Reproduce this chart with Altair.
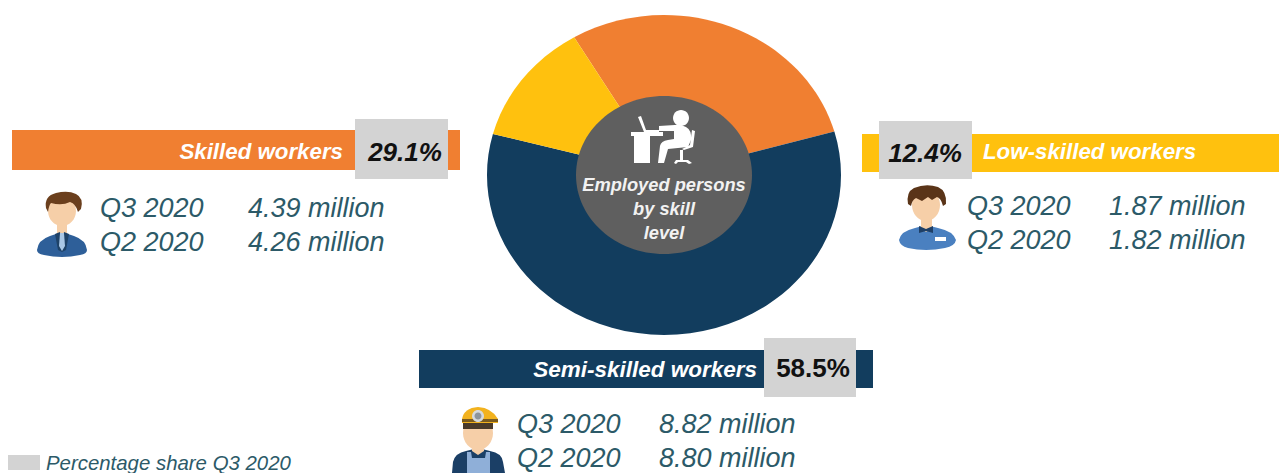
import math, re
import altair as alt
import pandas as pd

# ---- values ----
groups = ["Skilled workers", "Low-skilled workers", "Semi-skilled workers"]
shares = [29.1, 12.4, 58.5]
q3_values = [4.39, 1.87, 8.82]
q2_values = [4.26, 1.82, 8.80]
quarter_labels = ["Q3 2020", "Q2 2020"]
slice_colors = ["#F07F31", "#FFC10E", "#123D5E"]
center_lines = ["Employed persons", "by skill", "level"]
legend_label = "Percentage share Q3 2020"

FONT = "Liberation Sans"
TEAL = "#2C5A68"
GRAY = "#D3D3D3"
W, H = 1271, 465


def ix(v):
    return v - 8


def layer_rect(x0, x1, y0, y1, color):
    return alt.Chart().mark_rect(color=color).encode(
        x=alt.value(ix(x0)), x2=alt.value(ix(x1)), y=alt.value(ix(y0)), y2=alt.value(ix(y1))
    )


def txt(s, x, y, size, color, align="left", weight="normal", style="italic"):
    return alt.Chart().mark_text(
        text=s, font=FONT, fontSize=size, color=color, align=align, baseline="middle",
        fontWeight=weight, fontStyle=style,
    ).encode(x=alt.value(ix(x)), y=alt.value(ix(y) + 1))


def ell(cx, cy, rx, ry):
    k = 0.5523
    return (
        f"M {cx-rx} {cy} C {cx-rx} {cy-k*ry} {cx-k*rx} {cy-ry} {cx} {cy-ry} "
        f"C {cx+k*rx} {cy-ry} {cx+rx} {cy-k*ry} {cx+rx} {cy} "
        f"C {cx+rx} {cy+k*ry} {cx+k*rx} {cy+ry} {cx} {cy+ry} "
        f"C {cx-k*rx} {cy+ry} {cx-rx} {cy+k*ry} {cx-rx} {cy} Z"
    )


def unit_path(path, cx, cy, r):
    """Rewrite a path given in page pixels to the unit box a custom symbol uses."""
    count = [0]

    def sub(m):
        v = float(m.group(0))
        i = count[0]
        count[0] += 1
        return f"{(v - (cx if i % 2 == 0 else cy)) / r:.4f}"

    out = []
    for tok in re.split(r"([MLQCZ])", path):
        if tok in ("M", "L", "Q", "C", "Z"):
            out.append(tok)
        elif tok.strip():
            out.append(re.sub(r"-?\d+(\.\d+)?", sub, tok))
    return " ".join(out)


def icon(pieces, cx, cy, r=45):
    layers = []
    for path, color in pieces:
        layers.append(
            alt.Chart().mark_point(
                shape=unit_path(path, cx, cy, r), filled=True, color=color, opacity=1,
                strokeWidth=0, size=(2 * r) ** 2,
            ).encode(x=alt.value(ix(cx)), y=alt.value(ix(cy)))
        )
    return layers


# ---- pie (its circle is drawn slightly flattened in the reference) ----
PIE_X, PIE_Y, RX, RY = 664, 175, 177, 160
FLAT = RY / RX
START = -30.5


def wedge(a0, a1):
    r0, r1 = math.radians(a0), math.radians(a1)
    large = 1 if a1 - a0 > 180 else 0
    return (
        f"M 0 0 L {math.sin(r0):.5f} {-FLAT*math.cos(r0):.5f} "
        f"A 1 {FLAT:.5f} 0 {large} 1 {math.sin(r1):.5f} {-FLAT*math.cos(r1):.5f} Z"
    )


# clockwise order in the picture: Skilled, Semi-skilled, Low-skilled
order = [0, 2, 1]
rows = []
a = START
for i in order:
    b = a + shares[i] * 3.6
    rows.append({"group": groups[i], "share": shares[i], "path": wedge(a, b), "color": slice_colors[i]})
    a = b
pie_df = pd.DataFrame(rows)

pie = alt.Chart(pie_df).mark_point(filled=True, opacity=1, strokeWidth=0).encode(
    x=alt.value(ix(PIE_X)),
    y=alt.value(ix(PIE_Y)),
    shape=alt.Shape("path:N", scale=None, legend=None),
    color=alt.Color("color:N", scale=None, legend=None),
    size=alt.value((2 * RX) ** 2),
)

layers = [pie]
layers += icon([(ell(664, 175, 88, 79), "#5F5F5F")], 664, 175, 100)

# desk worker icon
WHITE = "#FFFFFF"
desk = [
    ("M 631 132 L 663 132 L 663 136 L 650 136 L 650 163 L 634 163 L 634 136 L 631 136 Z", WHITE),
    ("M 638 117 L 641 116 L 646 130 L 659 130 L 659 132 L 644 132 Z", WHITE),
    (ell(681, 118, 8, 8), WHITE),
    ("M 659 126 L 675 125 Q 680 124 686 127 Q 692 130 691 140 L 688 147 L 668 149 L 664 163 "
     "L 658 163 L 660 146 Q 661 141 668 140 L 674 139 L 674 131 L 659 131 Z", WHITE),
    ("M 692 130 L 695 131 L 693 147 L 684 150 L 682 149 L 690 145 Z", WHITE),
    ("M 680 150 L 683 150 L 683 160 L 688 160 L 692 163 L 689 164 L 686 162 L 678 162 L 676 164 L 674 163 L 676 160 L 680 160 Z", WHITE),
]
layers += icon(desk, 664, 140)

# band + share box + band label
bands = [
    dict(x=(12, 460), y=(130, 170), box=(355, 448, 119, 179)),
    dict(x=(862, 1279), y=(134, 172), box=(879, 972, 121, 179)),
    dict(x=(419, 873), y=(350, 388), box=(764, 856, 338, 397)),
]
for i, band in enumerate(bands):
    layers.append(layer_rect(band["x"][0], band["x"][1], band["y"][0], band["y"][1], slice_colors[i]))
    bx = band["box"]
    layers.append(layer_rect(bx[0], bx[1], bx[2], bx[3], GRAY))

layers.append(txt(groups[0], 343, 151, 22.3, WHITE, "right", "bold"))
layers.append(txt(groups[1], 983, 151, 22.3, WHITE, "left", "bold"))
layers.append(txt(groups[2], 757, 369, 22.5, WHITE, "right", "bold"))
layers.append(txt(f"{shares[0]}%", 405, 152, 26, "#111111", "center", "bold"))
layers.append(txt(f"{shares[1]}%", 925, 153, 26, "#111111", "center", "bold"))
layers.append(txt(f"{shares[2]}%", 813, 368, 26, "#111111", "center", "bold", style="normal"))

# quarter rows
rows_pos = [
    dict(qx=100, vx=248, y3=208, y2=242),
    dict(qx=967, vx=1109, y3=206, y2=240),
    dict(qx=517, vx=659, y3=424, y2=458),
]
for i, p in enumerate(rows_pos):
    layers.append(txt(quarter_labels[0], p["qx"], p["y3"], 27, TEAL))
    layers.append(txt(quarter_labels[1], p["qx"], p["y2"], 27, TEAL))
    layers.append(txt(f"{q3_values[i]:.2f} million", p["vx"], p["y3"], 27, TEAL))
    layers.append(txt(f"{q2_values[i]:.2f} million", p["vx"], p["y2"], 27, TEAL))

# center text
for line, y in zip(center_lines, [185, 209, 233]):
    layers.append(txt(line, 664, y, 18.3, "#F2F2F2", "center", "bold"))

# legend
layers.append(layer_rect(8, 40, 455, 470, GRAY))
layers.append(txt(legend_label, 46, 463, 20.4, TEAL))

# people icons
SKIN = "#F6CFA8"
man1 = [
    ("M 37 250 Q 38 240 50 236 L 62 232 L 74 236 Q 86 240 87 250 Q 87 254 80 255 Q 62 259 44 255 Q 37 254 37 250 Z", "#2E5F99"),
    ("M 57 222 L 67 222 L 67 233 L 62 237 L 57 233 Z", SKIN),
    ("M 55 234 L 60 232 L 62 252 L 58 250 Z", "#1E4268"),
    ("M 69 234 L 64 232 L 62 252 L 66 250 Z", "#1E4268"),
    ("M 60 233 L 64 233 L 65 246 L 62 251 L 59 246 Z", "#A9C7E6"),
    (ell(62, 211, 14, 15), SKIN),
    ("M 46 208 Q 44 196 56 193 Q 68 190 76 194 Q 84 198 81 209 L 78 212 Q 76 204 70 202 Q 62 206 51 203 Q 49 205 48 212 Z", "#6B3F1D"),
]
man2 = [
    ("M 899 240 Q 901 231 915 228 L 926 225 L 938 228 Q 953 231 956 240 Q 955 246 945 248 Q 926 252 908 248 Q 900 246 899 240 Z", "#4A80C0"),
    ("M 921 218 L 932 218 L 932 228 L 926 232 L 921 228 Z", SKIN),
    ("M 919 226 L 926 229 L 933 226 L 933 233 L 926 231 L 919 233 Z", "#1E3F66"),
    ("M 935 237 L 946 237 L 946 241 L 935 241 Z", "#FFFFFF"),
    (ell(926, 205, 14, 16), SKIN),
    ("M 908 204 Q 906 192 914 188 Q 926 183 938 187 Q 947 191 946 204 L 943 206 Q 941 198 937 197 L 932 200 L 928 197 L 922 201 L 916 198 Q 912 200 911 206 Z", "#5A3418"),
]
man3 = [
    ("M 452 473 L 453 462 Q 455 453 466 451 L 478 448 L 490 451 Q 502 453 503 462 L 505 473 Z", "#1B3F66"),
    ("M 467 473 L 467 452 L 471 452 L 472 458 L 485 458 L 486 452 L 490 452 L 490 473 Z", "#8FAFD8"),
    ("M 472 438 L 484 438 L 484 451 L 478 455 L 472 451 Z", SKIN),
    (ell(478, 433, 15, 17), SKIN),
    ("M 463 423 L 493 423 L 493 429 L 463 429 Z", "#4A3A2A"),
    ("M 462 419 Q 464 408 478 407 Q 492 408 498 419 L 498 423 L 462 423 Z", "#F2B21E"),
    ("M 462 419 L 498 419 L 498 422 L 462 422 Z", "#7A5B20"),
    (ell(478, 416, 6, 6), "#D5D9DD"),
    (ell(478, 416, 3.5, 3.5), "#8C949C"),
]
layers += icon(man1, 62, 225)
layers += icon(man2, 926, 218)
layers += icon(man3, 478, 440)

chart = alt.layer(*layers).properties(
    width=W, height=H, padding=0, autosize=alt.AutoSizeParams(type="none"),
    background="#FFFFFF",
).configure_view(stroke=None)

chart.save("out.html", embed_options={"renderer": "svg", "actions": False})
